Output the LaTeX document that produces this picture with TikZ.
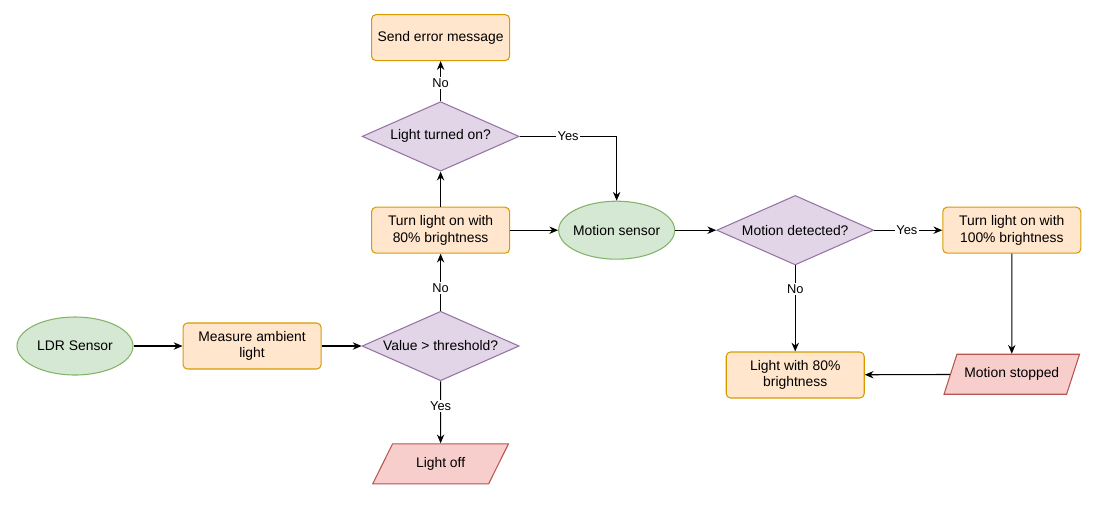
\documentclass[tikz,border=0pt]{standalone}
\usepackage{fontspec}
\setmainfont{Liberation Sans}
\usepackage{xcolor}
\usepackage{tikz}
\usetikzlibrary{arrows.meta, positioning, shapes.geometric}

\definecolor{procfill}{HTML}{FFE6CC}
\definecolor{procdraw}{HTML}{D79B00}
\definecolor{termfill}{HTML}{D5E8D4}
\definecolor{termdraw}{HTML}{82B366}
\definecolor{decfill}{HTML}{E1D5E7}
\definecolor{decdraw}{HTML}{9673A6}
\definecolor{iofill}{HTML}{F8CECC}
\definecolor{iodraw}{HTML}{B85450}

\begin{document}
\begin{tikzpicture}[
  every node/.style = {font=\fontsize{7.9}{9.4}\selectfont},
  proc/.style   = {draw=procdraw, fill=procfill, rectangle, rounded corners=2.5pt,
                   line width=0.6pt, minimum width=2.76cm, minimum height=0.92cm,
                   align=center},
  term/.style   = {draw=termdraw, fill=termfill, ellipse, line width=0.6pt,
                   inner xsep=-2pt, inner ysep=1pt,
                   minimum width=2.32cm, minimum height=1.16cm, align=center},
  dec/.style    = {draw=decdraw, fill=decfill, diamond, aspect=2.3, inner sep=0pt,
                   line width=0.6pt, minimum width=3.14cm, minimum height=1.39cm,
                   align=center},
  io/.style     = {draw=iodraw, fill=iofill, trapezium, trapezium left angle=63,
                   trapezium right angle=117, trapezium stretches=true,
                   line width=0.6pt, minimum width=2.72cm, minimum height=0.8cm},
  arr/.style    = {-{Stealth[length=5pt, width=4.2pt]}, line width=0.6pt},
  lbl/.style    = {fill=white, inner sep=0.8pt, font=\fontsize{7.3}{8.5}\selectfont},
]
\useasboundingbox (0,0) rectangle (22,-10.18);

\node[term] (ldr) at (1.5,-6.92) {LDR Sensor};
\node[proc, right=0.98cm of ldr]  (meas) {Measure ambient\\light};
\node[dec,  right=0.8cm of meas]  (thr)  {Value > threshold?};
\node[io,   below=1.24cm of thr]  (off)  {Light off};
\node[proc, above=1.14cm of thr]  (on80) {Turn light on with\\80\% brightness};
\node[dec,  above=0.7cm of on80]  (lton) {Light turned on?};
\node[proc, above=0.8cm of lton]  (err)  {Send error message};
\node[term, right=0.96cm of on80] (msens) {Motion sensor};
\node[dec,  right=0.82cm of msens] (mdet) {Motion detected?};
\node[proc, right=1.36cm of mdet] (on100) {Turn light on with\\100\% brightness};
\node[proc, below=1.72cm of mdet] (dim80) {Light with 80\%\\brightness};
\node[io,   below=2.0cm of on100] (mstop) {Motion stopped};

\draw[arr] (ldr)  -- (meas);
\draw[arr] (meas) -- (thr);
\draw[arr] (thr)  -- node[lbl, pos=0.4]{No} (on80);
\draw[arr] (thr)  -- node[lbl, pos=0.4]{Yes} (off);
\draw[arr] (on80) -- (lton);
\draw[arr] (lton) -- node[lbl, pos=0.45]{No} (err);

% yes branch back to the motion sensor
\draw[arr] (lton.east) -| node[lbl, pos=0.25]{Yes} (msens.north);

\draw[arr] (on80)  -- (msens);
\draw[arr] (msens) -- (mdet);
\draw[arr] (mdet)  -- node[lbl, pos=0.48]{Yes} (on100);
\draw[arr] (mdet)  -- node[lbl, pos=0.27]{No} (dim80);
\draw[arr] (on100) -- (mstop);
\draw[arr] (mstop) -- (dim80);

\end{tikzpicture}
\end{document}
